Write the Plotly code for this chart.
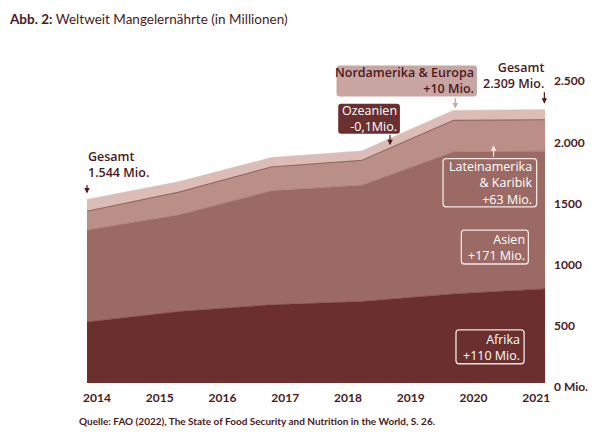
import plotly.graph_objects as go

# break points of the curves, as drawn (year axis)
jahre = [2013.84, 2015.30, 2016.78, 2018.22, 2019.68, 2021.14]

# Mio. Menschen je Region (gestapelt)
afrika = [498, 584, 639, 666, 728, 769]
asien = [752, 789, 932, 951, 1161, 1126]
lateinamerika = [152, 185, 193, 201, 256, 255]
ozeanien = [3, 3, 3, 3, 3, 3]
nordamerika_europa = [96, 84, 76, 76, 81, 82]

x_ticks = [2014, 2015, 2016, 2017, 2018, 2019, 2020, 2021]
y_ticks = [0, 500, 1000, 1500, 2000, 2500]
y_labels = ["0 Mio.", "500", "1000", "1500", "2.000", "2.500"]

FONT = "Lato, Roboto, sans-serif"
LABEL_FONT = "Open Sans, Noto Sans, sans-serif"
DARK = "#4a1a1e"

# the page body adds an 8px margin, so the figure is drawn 8px smaller
OFF = 8
W, H = 600 - OFF, 441 - OFF
L = 86.7 - OFF
R = W - (546.7 - OFF)
T = 64.5 - OFF
B = H - (383.3 - OFF)


def px_x(px):
    # px measured in the 600x441 window
    return (px - OFF - L) / (W - L - R)


def px_y(py):
    return (H - B - (py - OFF)) / (H - T - B)


def rounded_box(x0, y0, x1, y1, r=3):
    pts = [("M", x0 + r, y0), ("L", x1 - r, y0), ("Q", x1, y0, x1, y0 + r),
           ("L", x1, y1 - r), ("Q", x1, y1, x1 - r, y1), ("L", x0 + r, y1),
           ("Q", x0, y1, x0, y1 - r), ("L", x0, y0 + r), ("Q", x0, y0, x0 + r, y0)]
    path = ""
    for p in pts:
        coords = p[1:]
        s = []
        for i in range(0, len(coords), 2):
            s.append(f"{px_x(coords[i]):.5f},{px_y(coords[i + 1]):.5f}")
        path += p[0] + " " + " ".join(s) + " "
    return path + "Z"


fig = go.Figure()

layers = [
    ("Afrika", afrika, "#6b2f2f"),
    ("Asien", asien, "#9b6a64"),
    ("Lateinamerika & Karibik", lateinamerika, "#b98f88"),
    ("Ozeanien", ozeanien, "#6b2f2f"),
    ("Nordamerika & Europa", nordamerika_europa, "#dbbcb7"),
]
for name, vals, col in layers:
    fig.add_trace(go.Scatter(
        x=jahre, y=vals, name=name, stackgroup="one", mode="lines",
        line=dict(color=col, width=0.6), fillcolor=col, hoverinfo="x+y+name",
    ))

# boxes
boxes = [
    (337.3, 65, 478.3, 96, "#c9a5a2", "#c9a5a2", 0),
    (339, 103.3, 401, 133.3, "#6b2f2f", "#6b2f2f", 0),
    (444.3, 158.3, 538.3, 206.7, "rgba(0,0,0,0)", "#f3e6e3", 1.3),
    (462.7, 230, 530, 264, "rgba(0,0,0,0)", "#f3e6e3", 1.3),
    (457.3, 330, 525.7, 364, "rgba(0,0,0,0)", "#f3e6e3", 1.3),
]
for x0, y0, x1, y1, fill, border, bw in boxes:
    fig.add_shape(type="path", xref="paper", yref="paper",
                  path=rounded_box(x0, y0, x1, y1),
                  fillcolor=fill, line=dict(color=border, width=bw))


def label(text, x, y, color, anchor="right", size=12.5, weight="normal"):
    fig.add_annotation(text=text, x=px_x(x), y=px_y(y),
                       xref="paper", yref="paper", xanchor=anchor, yanchor="middle",
                       align=anchor, showarrow=False, borderpad=0,
                       font=dict(family=LABEL_FONT, size=size, color=color, weight=weight))


label("Nordamerika & Europa<br>+10 Mio.", 476.5, 80.5, DARK, weight=600)
label("Ozeanien<br>-0,1Mio.", 399.5, 118.5, "white")
label("Lateinamerika<br>& Karibik<br>+63 Mio.", 536, 182.5, "white")
label("Asien<br>+171 Mio.", 527.5, 247, "white")
label("Afrika<br>+110 Mio.", 523, 347.5, "white")
label("Gesamt<br>1.544 Mio.", 86.5, 164.5, DARK, anchor="left", weight=600)
label("Gesamt<br>2.309 Mio.", 547, 75.3, DARK, weight=600)

# small arrows
arrows = [
    (2013.84, 1550, -10, DARK),
    (2021.13, 2284, -13, DARK),
    (2019.71, 2245, -12, "#c9a5a2"),
    (2018.67, 1944, -12, DARK),
    (2020.32, 1944, 13, "#f3e6e3"),
]
for ax_x, ax_y, dy, col in arrows:
    fig.add_annotation(x=ax_x, y=ax_y, xref="x", yref="y", text="", showarrow=True,
                       ax=0, ay=dy, arrowhead=2, arrowsize=0.9, arrowwidth=1.2,
                       arrowcolor=col)

fig.add_annotation(
    text="<b>Abb. 2:</b> Weltweit Mangelernährte (in Millionen)",
    x=px_x(7.5), y=px_y(18.3), xref="paper", yref="paper",
    xanchor="left", yanchor="middle", showarrow=False, borderpad=0,
    font=dict(family=FONT, size=13.5, color=DARK))
fig.add_annotation(
    text="Quelle: FAO (2022), The State of Food Security and Nutrition in the World, S. 26.",
    x=px_x(77.3), y=px_y(421.7), xref="paper", yref="paper",
    xanchor="left", yanchor="middle", showarrow=False, borderpad=0,
    font=dict(family=FONT, size=10, color=DARK, weight="bold"))

fig.update_layout(
    width=W, height=H,
    margin=dict(l=L, r=R, t=T, b=B),
    plot_bgcolor="white", paper_bgcolor="white",
    showlegend=False,
    font=dict(family=FONT, color=DARK),
    xaxis=dict(range=[jahre[0], jahre[-1]], tickvals=x_ticks, showgrid=False,
               zeroline=False, showline=False, ticks="", ticklabelstandoff=6,
               tickfont=dict(size=12, weight="bold", color=DARK)),
    yaxis=dict(range=[0, 2600], tickvals=y_ticks, ticktext=y_labels, side="right",
               showgrid=False, zeroline=False, showline=False, ticks="",
               ticklabelstandoff=8, ticklabelshift=4,
               tickfont=dict(size=12, weight="bold", color=DARK)),
)

fig.write_html("out.html")
